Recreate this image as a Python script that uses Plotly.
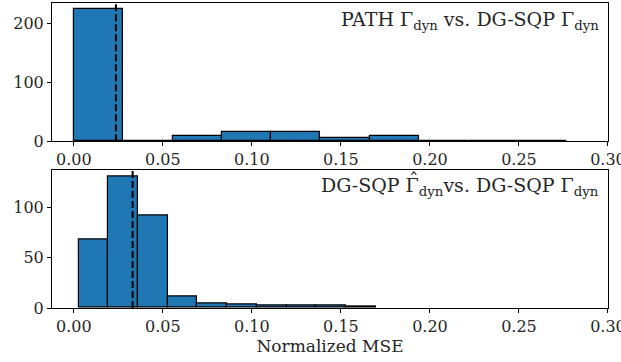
import numpy as np
import plotly.graph_objects as go
from plotly.subplots import make_subplots

# ---- data ----
top_edges = [0.0, 0.0277, 0.0554, 0.0831, 0.1108, 0.1385, 0.1662, 0.1939, 0.2216, 0.2493, 0.2770]
top_counts = [224, 1, 8, 16, 15, 5, 9, 0, 0, 1]
top_mean = 0.0236
top_label = "PATH Γ<sub>dyn</sub> vs. DG-SQP Γ<sub>dyn</sub>"

bot_edges = [0.0026, 0.0193, 0.0360, 0.0527, 0.0694, 0.0861, 0.1028, 0.1195, 0.1362, 0.1529, 0.1696]
bot_counts = [68, 131, 92, 11, 4, 3, 2, 2, 2, 1]
bot_mean = 0.0330
# the hat of Γ̂ is drawn by an overlay so that it sits centred over Γ
bot_label = "DG-SQP Γ<sub>dyn</sub>vs. DG-SQP Γ<sub>dyn</sub>"
bot_hat = ("ˆ<span style='color:rgba(0,0,0,0)'><sub>dyn</sub>vs. DG-SQP Γ"
           "<sub>dyn</sub></span>")

x_ticks = [0.00, 0.05, 0.10, 0.15, 0.20, 0.25, 0.30]
x_ticklabels = ["0.00", "0.05", "0.10", "0.15", "0.20", "0.25", "0.30"]
top_yticks = [0, 100, 200]
bot_yticks = [0, 50, 100]
x_title = "Normalized MSE"

FONT = "DejaVu Serif"
TXT = "#262626"
BLUE = "#1f77b4"

fig = make_subplots(rows=2, cols=1, vertical_spacing=0.0)

def add_hist(edges, counts, row):
    e = np.array(edges)
    centers = (e[:-1] + e[1:]) / 2
    widths = np.diff(e)
    fig.add_trace(go.Bar(x=centers, y=counts, width=widths,
                         marker=dict(color=BLUE, line=dict(color="black", width=1.2)),
                         showlegend=False), row=row, col=1)

add_hist(top_edges, top_counts, 1)
add_hist(bot_edges, bot_counts, 2)

axis_common = dict(showline=True, linecolor="black", linewidth=1, mirror=True,
                   ticks="outside", ticklen=4, tickwidth=1, tickcolor="black",
                   showgrid=False, zeroline=False, ticklabeloverflow="allow",
                   automargin=False,
                   tickfont=dict(family=FONT, size=16, color=TXT))

fig.update_xaxes(range=[-0.0123, 0.30002], tickvals=x_ticks, ticktext=x_ticklabels, **axis_common)
fig.update_yaxes(**axis_common)
fig.update_yaxes(range=[0, 235], tickvals=top_yticks, row=1, col=1)
fig.update_yaxes(range=[0, 137.5], tickvals=bot_yticks, row=2, col=1)
fig.update_xaxes(title=dict(text=x_title, font=dict(family=FONT, size=17, color=TXT), standoff=4), row=2, col=1)

fig.update_layout(
    xaxis=dict(domain=[0, 1]),
    yaxis=dict(domain=[0.547, 1.0]),
    xaxis2=dict(domain=[0, 1]),
    yaxis2=dict(domain=[0.0, 0.454]),
    bargap=0,
)

for mean, xr, yr in [(top_mean, "x", "y"), (bot_mean, "x2", "y2")]:
    fig.add_shape(type="line", xref=xr, yref=yr + " domain", x0=mean, x1=mean, y0=0, y1=1,
                  line=dict(color="black", width=2, dash="7px,3px"))

for label, xr, yr, xs, ys in [(top_label, "x", "y", 0, 0), (bot_label, "x2", "y2", 0, 0),
                              (bot_hat, "x2", "y2", -1.5, 5)]:
    fig.add_annotation(text=label, xref=xr + " domain", yref=yr + " domain", x=0.988, y=0.98,
                       xanchor="right", yanchor="top", showarrow=False, xshift=xs, yshift=ys,
                       font=dict(family=FONT, size=19, color=TXT))

fig.update_layout(width=621, height=362, margin=dict(l=52, r=13, t=3, b=54),
                  plot_bgcolor="white", paper_bgcolor="white")

fig.write_html("out.html")
